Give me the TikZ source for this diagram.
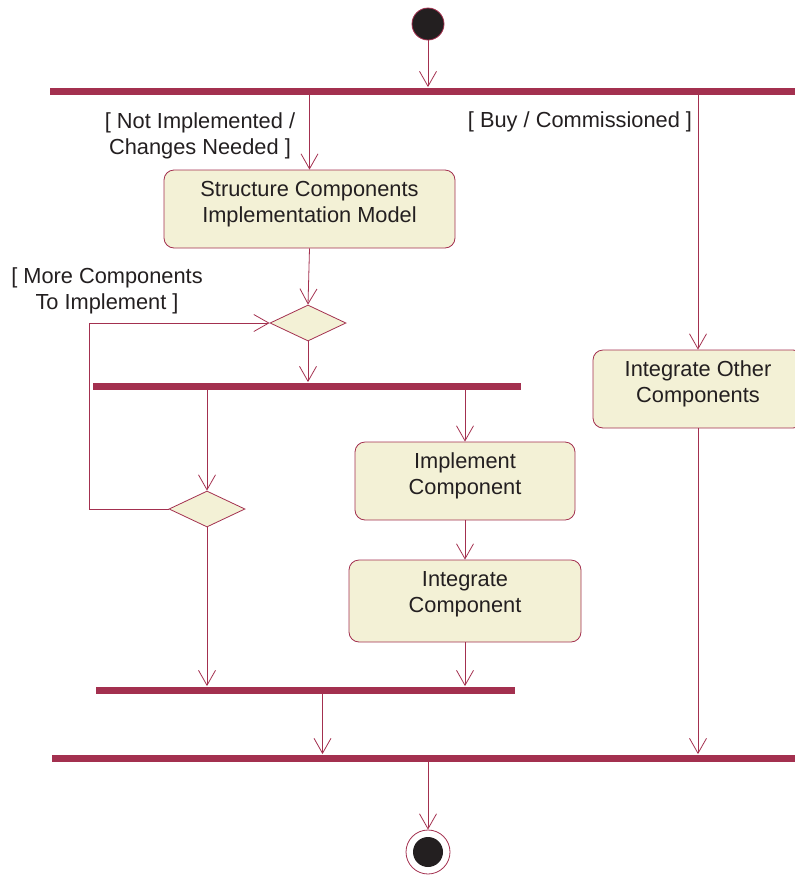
\documentclass[tikz,border=0pt]{standalone}
\usepackage{fontspec}
\setmainfont{Liberation Sans}
\usetikzlibrary{arrows.meta,shapes.geometric}
\definecolor{barred}{RGB}{163,48,79}
\definecolor{boxfill}{RGB}{243,241,214}
\definecolor{ink}{RGB}{35,31,32}
\tikzstyle{every picture}+=[>={Straight Barb[length=15pt,width=17pt]}]
\tikzstyle{every picture}+=[line width=0.8pt]
\tikzstyle{every picture}+=[x=1pt,y=-1pt]
\tikzstyle{every picture}+=[font=\fontsize{21.8}{26}\selectfont]
\tikzstyle{activity}=[draw=barred,fill=boxfill,rounded corners=10pt,align=center,text=ink,inner sep=0pt,text height=52pt,text depth=26pt]
\tikzstyle{bar}=[fill=barred,inner sep=0pt,minimum height=7pt]
\tikzstyle{choice}=[diamond,draw=barred,fill=boxfill,inner sep=0pt,minimum width=76pt,minimum height=36pt]
\tikzstyle{guard}=[align=center,text=ink]
\tikzstyle{flow}=[->,draw=barred]

\begin{document}
\begin{tikzpicture}
\useasboundingbox (0,0) rectangle (795,876);

\node[circle,fill=ink,draw=barred,minimum size=32pt,inner sep=0pt] (start) at (428,24) {};

\node[bar,minimum width=750pt] (fork) at (425,91) {};
\node[bar,minimum width=428pt] (split) at (307,386) {};
\node[bar,minimum width=419pt] (join) at (305.5,690) {};
\node[bar,minimum width=748pt] (merge) at (426,758) {};

\node[activity,minimum width=291pt] (structure) at (309.5,209) {Structure Components\\Implementation Model};
\node[activity,minimum width=210pt] (other) at (698,389) {Integrate Other\\Components};
\node[activity,minimum width=220pt] (implement) at (465,481) {Implement\\Component};
\node[activity,minimum width=232pt,text depth=30pt] (integrate) at (465,601) {Integrate\\Component};

\node[choice] (more) at (308,323) {};
\node[choice] (last) at (207,509) {};

\node[guard] (notimpl) at (200,136) {[ Not Implemented /\\ Changes Needed ]};
\node[guard] (buy) at (580,122) {[ Buy / Commissioned ]};
\node[guard] (again) at (107,291) {[ More Components\\ To Implement ]};

\node[circle,draw=barred,fill=white,minimum size=44pt,inner sep=0pt] (stop) at (428,852) {};
\node[circle,fill=ink,minimum size=30pt,inner sep=0pt] (stopdot) at (stop) {};

\coordinate (joinout) at ([xshift=17pt]join.south);

\draw[flow] (start) -- (start |- fork.north);
\draw[flow] (fork.south -| structure.north) -- (structure.north);
\draw[flow] (fork.south -| other.north) -- (other.north);
\draw[flow] (structure.south) -- (more.north);
\draw[flow] (more.south) -- (more.south |- split.north);
\draw[flow] (split.south -| last.north) -- (last.north);
\draw[flow] (split.south -| implement.north) -- (implement.north);
\draw[flow] (implement.south) -- (integrate.north);
\draw[flow] (last.west) -- ++(-79,0) |- (more.west);
\draw[flow] (last.south) -- (last.south |- join.north);
\draw[flow] (integrate.south) -- (integrate.south |- join.north);
\draw[flow] (joinout) -- (joinout |- merge.north);
\draw[flow] (other.south) -- (other.south |- merge.north);
\draw[flow] (merge.south -| stop.north) -- (stop.north);
\end{tikzpicture}
\end{document}
